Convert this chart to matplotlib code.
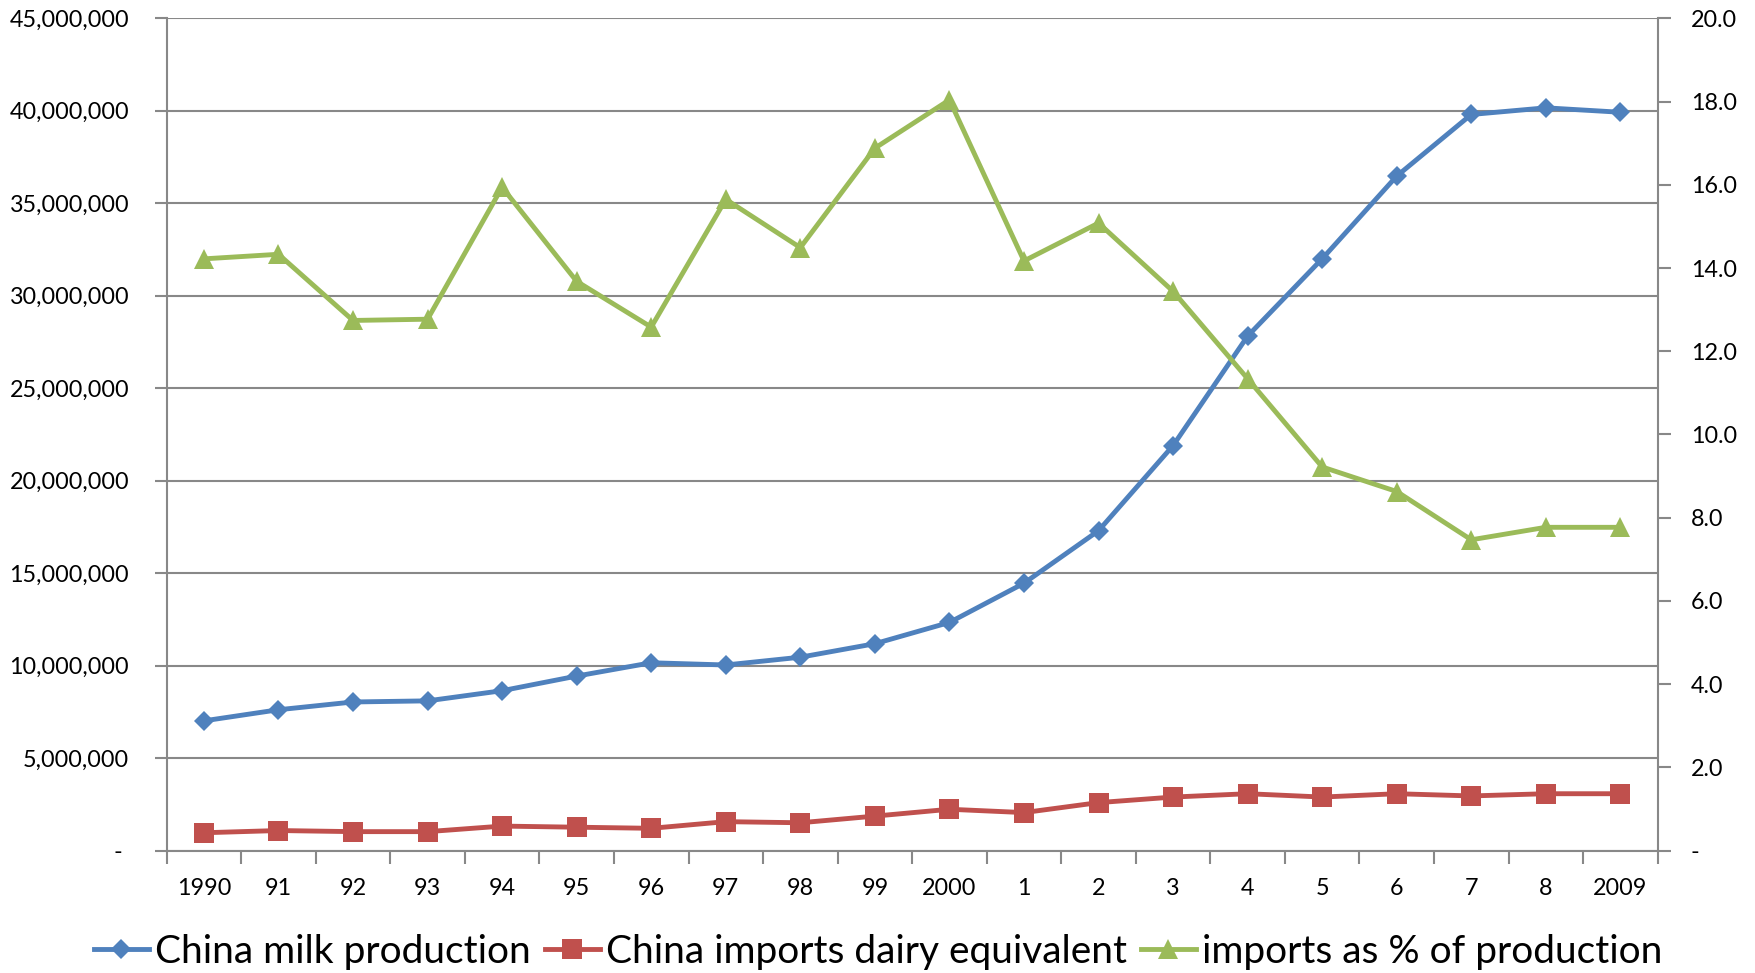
import matplotlib
matplotlib.use("Agg")
import matplotlib.pyplot as plt
from matplotlib.ticker import FixedLocator, FuncFormatter
import numpy as np

plt.rcParams['font.family'] = ['Lato', 'DejaVu Sans']

years = ["1990", "91", "92", "93", "94", "95", "96", "97", "98", "99",
         "2000", "1", "2", "3", "4", "5", "6", "7", "8", "2009"]

milk_production = [7.02e6, 7.62e6, 8.04e6, 8.10e6, 8.65e6, 9.44e6, 10.16e6, 10.04e6,
                   10.46e6, 11.19e6, 12.34e6, 14.46e6, 17.30e6, 21.90e6, 27.82e6,
                   32.00e6, 36.47e6, 39.80e6, 40.16e6, 39.92e6]

imports_dairy = [0.97e6, 1.09e6, 1.03e6, 1.03e6, 1.33e6, 1.27e6, 1.21e6, 1.57e6,
                 1.51e6, 1.87e6, 2.24e6, 2.06e6, 2.60e6, 2.90e6, 3.08e6, 2.90e6,
                 3.08e6, 2.96e6, 3.08e6, 3.08e6]

imports_pct = [14.22, 14.33, 12.74, 12.77, 15.94, 13.68, 12.58, 15.65, 14.49, 16.88,
               18.04, 14.17, 15.08, 13.44, 11.34, 9.22, 8.63, 7.47, 7.77, 7.77]

series_labels = ["China milk production", "China imports dairy equivalent",
                 "imports as % of production"]

BLUE = "#4F81BD"
RED = "#C0504D"
GREEN = "#9BBB59"
GRAY = "#888888"

fig = plt.figure(figsize=(17.56, 9.73), dpi=100)
ax = fig.add_axes([0.0949, 0.1257, 0.944 - 0.0949, 0.9812 - 0.1257])
ax2 = ax.twinx()

x = np.arange(len(years))

l1, = ax.plot(x, milk_production, color=BLUE, lw=3.5, marker="D", markersize=10.5,
              markeredgewidth=0, label=series_labels[0], zorder=3)
l2, = ax.plot(x, imports_dairy, color=RED, lw=3.5, marker="s", markersize=15,
              markeredgewidth=0, label=series_labels[1], zorder=3)
l3, = ax2.plot(x, imports_pct, color=GREEN, lw=3.5, marker="^", markersize=14.5,
               markeredgewidth=0, label=series_labels[2], zorder=3)

# primary axis
ax.set_xlim(-0.5, len(years) - 0.5)
ax.set_ylim(0, 45e6)
ax.yaxis.set_major_locator(FixedLocator(np.arange(0, 45e6 + 1, 5e6)))
ax.yaxis.set_major_formatter(FuncFormatter(lambda v, p: "- " if v == 0 else f"{v:,.0f}"))
ax.grid(axis="y", color=GRAY, lw=1.5, zorder=0)
ax.set_axisbelow(True)

ax.set_xticks(x)
ax.set_xticklabels(years)
ax.set_xticks(np.arange(-0.5, len(years), 1), minor=True)
ax.tick_params(axis="x", which="major", length=0, pad=20, labelsize=16.8, labelcolor="black")
ax.tick_params(axis="x", which="minor", length=9, width=1.5, color=GRAY, direction="out")
ax.tick_params(axis="y", length=9, width=1.5, color=GRAY, direction="out", pad=18,
               labelsize=16.8, labelcolor="black")

# secondary axis
ax2.set_ylim(0, 20)
ax2.yaxis.set_major_locator(FixedLocator(np.arange(0, 21, 2)))
ax2.yaxis.set_major_formatter(FuncFormatter(lambda v, p: "-" if v == 0 else f"{v:.1f}"))
ax2.tick_params(axis="y", length=9, width=1.5, color=GRAY, direction="out", pad=15,
                labelsize=16.8, labelcolor="black")

for a in (ax, ax2):
    a.spines["top"].set_visible(False)
    for s in ("left", "right", "bottom"):
        a.spines[s].set_color(GRAY)
        a.spines[s].set_linewidth(1.5)
ax.spines["right"].set_visible(False)
ax2.spines["left"].set_visible(False)
ax2.spines["bottom"].set_visible(False)

fig.legend(handles=[l1, l2, l3], loc="center", bbox_to_anchor=(0.5, 0.022),
           ncol=3, frameon=False, fontsize=28, handlelength=1.41, handletextpad=0.15,
           columnspacing=0.37, borderpad=0)

fig.savefig("out.png", dpi=100)
